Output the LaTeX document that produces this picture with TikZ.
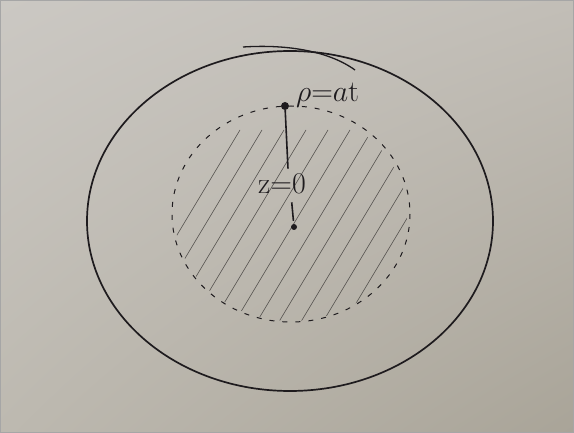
\RequirePackage{fix-cm}
\documentclass[tikz,border=0pt]{standalone}
\usetikzlibrary{calc,shadings}
\definecolor{ink}{HTML}{1E1B1E}
\definecolor{pencil}{HTML}{4F4C49}
\definecolor{paperA}{HTML}{CBC8C3}
\definecolor{paperB}{HTML}{C2BEB7}
\definecolor{paperC}{HTML}{BDB9B0}
\definecolor{paperD}{HTML}{A9A498}
\tikzset{
  outline/.style={ink, line width=1.7pt},
  dashring/.style={ink, line width=1pt, dash pattern=on 5pt off 8pt},
  hatch/.style={pencil, line width=0.55pt},
  dotnode/.style={circle, fill=ink, inner sep=0pt, minimum size=8pt},
  label/.style={ink, font=\fontsize{30}{30}\selectfont, inner sep=0pt},
}
\begin{document}
\begin{tikzpicture}[x=1pt,y=-1pt]
\useasboundingbox (0,0) rectangle (574,433);
\shade[upper left=paperA, upper right=paperB, lower left=paperC, lower right=paperD] (0,0) rectangle (574,433);
\draw[gray!70, line width=0.8pt] (0.5,0.5) rectangle (573.5,432.5);
% outer circle
\draw[outline] (290,221) ellipse [x radius=203, y radius=170];
\draw[outline, line width=1.3pt] (243,47) .. controls (290,44) and (330,52) .. (355,70);
% hatching
\begin{scope}
\clip (291,216) ellipse [x radius=116, y radius=105];
\foreach \x in {120,142,...,520} {
  \draw[hatch] (\x,330) -- ++(120,-200);
}
\end{scope}
% dashed inner circle
\draw[dashring] (291,214) ellipse [x radius=119, y radius=108];
% nodes
\node[dotnode] (top) at (285,106) {};
\node[dotnode, minimum size=6pt] (ctr) at (294,227) {};
\node[label, anchor=west] (rho) at (296,95) {$\rho$=$a$t};
\node[label] (zlab) at (282,184) {z=0};
\draw[ink, line width=1.6pt] (top) -- ($(zlab.north)+(6,-5)$);
\draw[ink, line width=1.6pt, shorten <=8pt, shorten >=3pt] ($(zlab.south)+(9,0)$) -- (ctr);
\end{tikzpicture}
\end{document}
